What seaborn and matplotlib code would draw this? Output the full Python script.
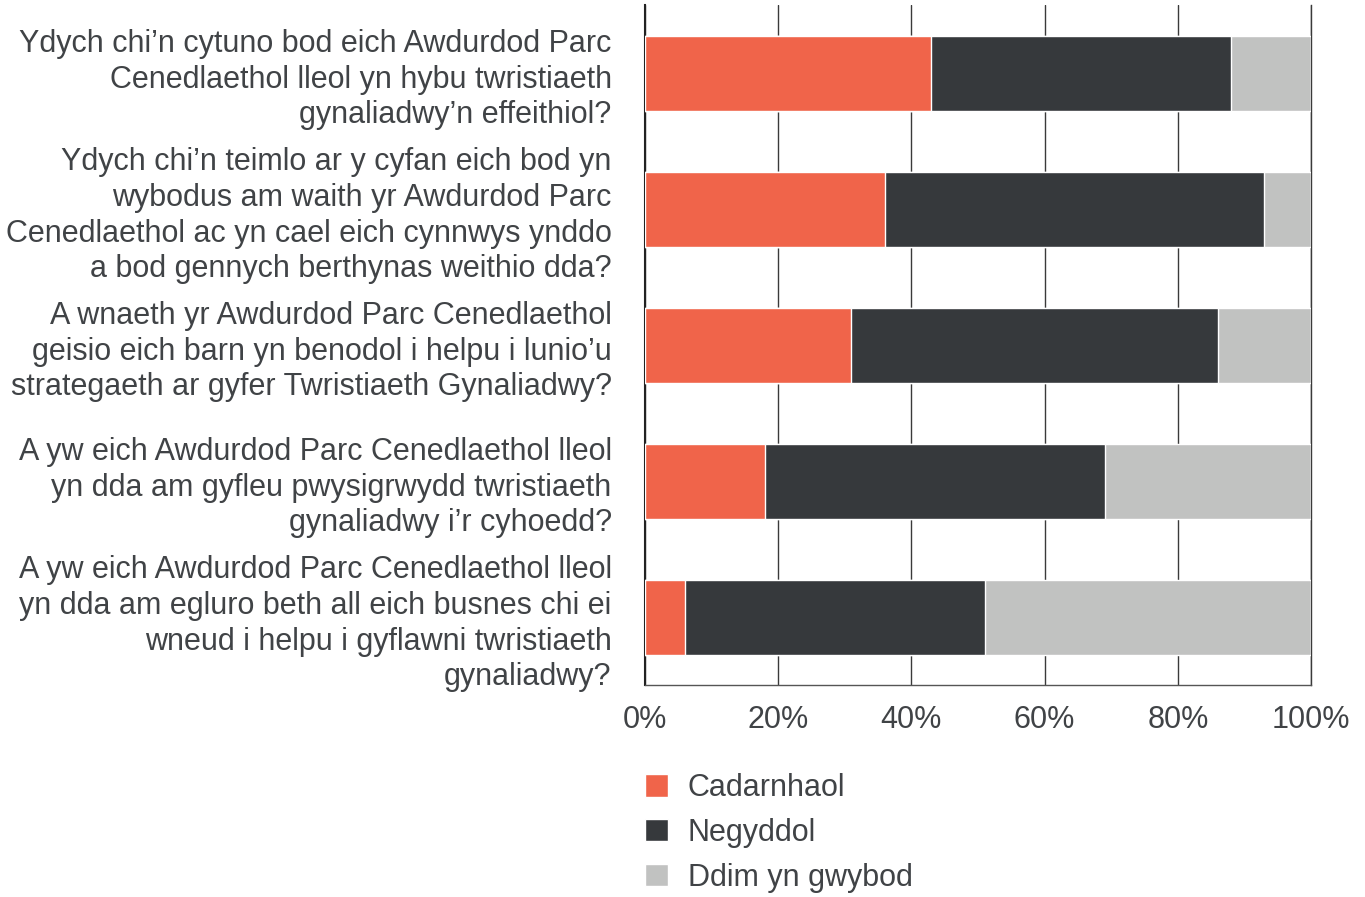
import numpy as np
import pandas as pd
import matplotlib.pyplot as plt
import seaborn as sns
from matplotlib.patches import Patch
from matplotlib.ticker import PercentFormatter

questions = [
    "Ydych chi\u2019n cytuno bod eich Awdurdod Parc\nCenedlaethol lleol yn hybu twristiaeth\ngynaliadwy\u2019n effeithiol?",
    "Ydych chi\u2019n teimlo ar y cyfan eich bod yn\nwybodus am waith yr Awdurdod Parc\nCenedlaethol ac yn cael eich cynnwys ynddo\na bod gennych berthynas weithio dda?",
    "A wnaeth yr Awdurdod Parc Cenedlaethol\ngeisio eich barn yn benodol i helpu i lunio\u2019u\nstrategaeth ar gyfer Twristiaeth Gynaliadwy?",
    "A yw eich Awdurdod Parc Cenedlaethol lleol\nyn dda am gyfleu pwysigrwydd twristiaeth\ngynaliadwy i\u2019r cyhoedd?",
    "A yw eich Awdurdod Parc Cenedlaethol lleol\nyn dda am egluro beth all eich busnes chi ei\nwneud i helpu i gyflawni twristiaeth\ngynaliadwy?",
]
series = ["Cadarnhaol", "Negyddol", "Ddim yn gwybod"]
cadarnhaol = [43, 36, 31, 18, 6]
negyddol = [45, 57, 55, 51, 45]
ddim = [12, 7, 14, 31, 49]
colors = ["#F0644A", "#36393C", "#C1C2C1"]
text_col = "#404346"

df = pd.DataFrame({"q": questions, "Cadarnhaol": cadarnhaol,
                   "Negyddol": negyddol, "Ddim yn gwybod": ddim})
# cumulative ends for stacking
df["c1"] = df["Cadarnhaol"]
df["c2"] = df["c1"] + df["Negyddol"]
df["c3"] = df["c2"] + df["Ddim yn gwybod"]

sns.set_theme(style="white")
plt.rcParams["font.family"] = ["Liberation Sans", "DejaVu Sans"]

fig, ax = plt.subplots(figsize=(13.65, 8.97), dpi=100)
fig.subplots_adjust(left=0.4725, right=0.9605, top=0.994, bottom=0.236)

for col, c in zip(["c3", "c2", "c1"], colors[::-1]):
    sns.barplot(data=df, x=col, y="q", color=c, width=0.55, ax=ax,
                saturation=1, zorder=3, orient="h")

ax.set_xlim(0, 100)
ax.set_ylim(len(questions) - 0.5, -0.5)
ax.set_xticks(np.arange(0, 101, 20))
ax.xaxis.set_major_formatter(PercentFormatter(decimals=0))
ax.grid(axis="x", color="#3a3a3a", linewidth=1, zorder=0)
ax.set_axisbelow(True)
ax.set_xlabel("")
ax.set_ylabel("")
ax.spines["top"].set_visible(False)
ax.spines["right"].set_color("#3a3a3a")
ax.spines["right"].set_linewidth(1)
ax.spines["left"].set_color("#222222")
ax.spines["left"].set_linewidth(1.5)
ax.spines["bottom"].set_color("#555555")
ax.spines["bottom"].set_linewidth(1)
ax.tick_params(axis="x", length=0, pad=14, labelsize=22, labelcolor=text_col)
ax.tick_params(axis="y", length=0, pad=24, labelsize=22, labelcolor=text_col)
for t in ax.get_yticklabels():
    t.set_horizontalalignment("right")
    t.set_linespacing(1.25)

handles = [Patch(facecolor=c, label=l) for c, l in zip(colors, series)]
leg = fig.legend(handles=handles, loc="upper left", bbox_to_anchor=(0.4725, 0.138),
                 frameon=False, fontsize=22, handlelength=0.75, handleheight=0.75,
                 labelspacing=0.48, handletextpad=0.65, borderpad=0, borderaxespad=0)
for t in leg.get_texts():
    t.set_color(text_col)

fig.savefig("out.png", dpi=100)
